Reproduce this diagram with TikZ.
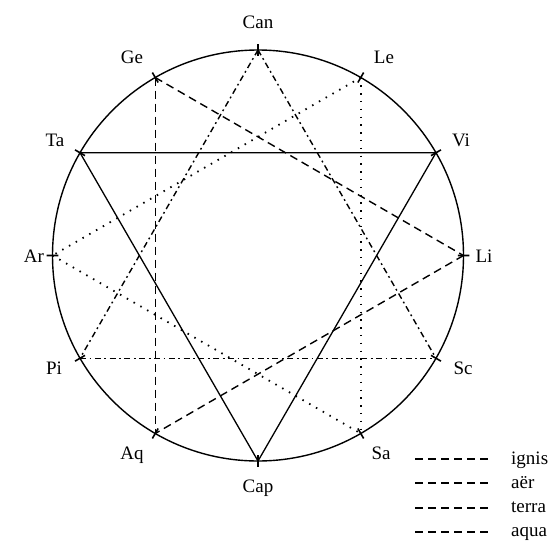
\documentclass[tikz,border=0pt]{standalone}
\usepackage{fontspec}
\setmainfont{Liberation Serif}
\usetikzlibrary{calc}
\begin{document}
\begin{tikzpicture}[x=1pt,y=-1pt,
  lbl/.style={anchor=base,inner sep=0pt,font=\fontsize{19}{22}\selectfont},
  legtxt/.style={anchor=base west,inner sep=0pt,font=\fontsize{19}{22}\selectfont},
  rim/.style={line width=1.4pt},
  tick/.style={line width=1.6pt},
  terraline/.style={line width=1.3pt},
  aerline/.style={line width=1.4pt,dash pattern=on 8pt off 5pt},
  ignisline/.style={line width=1.8pt,dash pattern=on 1.5pt off 6.3pt},
  aqualine/.style={line width=1.4pt,dash pattern=on 6pt off 3.5pt on 1.8pt off 3.5pt},
  legline/.style={line width=1.5pt,dash pattern=on 8pt off 5pt}]
\useasboundingbox (0,0) rectangle (552,544);
\coordinate (c) at (258,255.5);
\coordinate (Can) at (258,50);
\coordinate (Le) at (360.75,77.53);
\coordinate (Vi) at (435.97,152.75);
\coordinate (Li) at (463.5,255.5);
\coordinate (Sc) at (435.97,358.25);
\coordinate (Sa) at (360.75,433.47);
\coordinate (Cap) at (258,461);
\coordinate (Aq) at (155.25,433.47);
\coordinate (Pi) at (80.03,358.25);
\coordinate (Ar) at (52.5,255.5);
\coordinate (Ta) at (80.03,152.75);
\coordinate (Ge) at (155.25,77.53);
\draw[rim] (c) circle (205.5);
\foreach \p in {Can,Le,Vi,Li,Sc,Sa,Cap,Aq,Pi,Ar,Ta,Ge}
  \draw[tick] ($(c)!0.972!(\p)$) -- ($(c)!1.028!(\p)$);
% terra
\draw[terraline] (Ta) -- (Vi) -- (Cap) -- cycle;
% aer
\draw[aerline] (Ge) -- (Aq);
\draw[aerline] (Ge) -- (Li);
\draw[aerline] (Li) -- (Aq);
% ignis
\draw[ignisline] (Le) -- (Sa);
\draw[ignisline] (Le) -- (Ar);
\draw[ignisline] (Ar) -- (Sa);
% aqua
\draw[aqualine] (Pi) -- (Sc);
\draw[aqualine] (Can) -- (Pi);
\draw[aqualine] (Can) -- (Sc);
% labels
\node[lbl] (tCan) at (258,28) {Can};
\node[lbl] (tGe) at (132,63) {Ge};
\node[lbl] (tLe) at (384,63) {Le};
\node[lbl] (tTa) at (55,146) {Ta};
\node[lbl] (tVi) at (461,146) {Vi};
\node[lbl] (tAr) at (34,262) {Ar};
\node[lbl] (tLi) at (484,262) {Li};
\node[lbl] (tPi) at (54,374) {Pi};
\node[lbl] (tSc) at (463,374) {Sc};
\node[lbl] (tAq) at (132,459) {Aq};
\node[lbl] (tSa) at (381,459) {Sa};
\node[lbl] (tCap) at (258,492) {Cap};
% legend
\node[legtxt] (lg1) at (511,464) {ignis};
\node[legtxt] (lg2) at (511,488) {aër};
\node[legtxt] (lg3) at (511,512) {terra};
\node[legtxt] (lg4) at (511,536) {aqua};
\coordinate (a1) at (415,459); \coordinate (b1) at (492,459);
\coordinate (a2) at (415,483); \coordinate (b2) at (492,483);
\coordinate (a3) at (415,508); \coordinate (b3) at (492,508);
\coordinate (a4) at (415,532); \coordinate (b4) at (492,532);
\draw[legline] (a1) -- (b1);
\draw[legline] (a2) -- (b2);
\draw[legline] (a3) -- (b3);
\draw[legline] (a4) -- (b4);
\end{tikzpicture}
\end{document}
